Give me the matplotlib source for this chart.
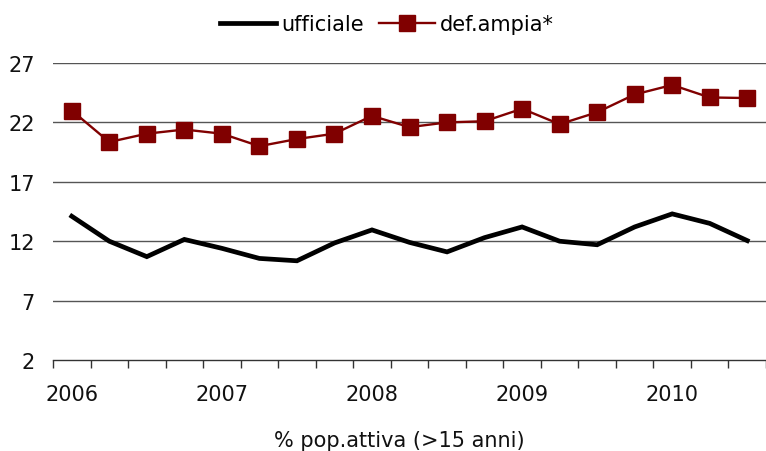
import matplotlib
matplotlib.use("Agg")
import matplotlib.pyplot as plt
import numpy as np

years = ["2006", "2007", "2008", "2009", "2010"]
ufficiale = [14.1, 12.0, 10.7, 12.15, 11.4, 10.55, 10.35, 11.85, 12.95, 11.9, 11.1,
             12.3, 13.2, 12.0, 11.7, 13.2, 14.3, 13.5, 12.05]
def_ampia = [23.0, 20.35, 21.05, 21.4, 21.05, 20.0, 20.6, 21.05, 22.55, 21.6, 22.0,
             22.1, 23.15, 21.85, 22.85, 24.35, 25.15, 24.1, 24.05]
y_ticks = [2, 7, 12, 17, 22, 27]
xlabel = "% pop.attiva (>15 anni)"

plt.rcParams['font.family'] = ['DejaVu Sans']
fig = plt.figure(figsize=(7.66, 4.52), dpi=100)
ax = fig.add_axes([53/766, 1-361/452, 1-53/766, (361-64)/452])

x = np.arange(len(ufficiale))
ax.plot(x, ufficiale, color='black', lw=3.4, solid_joinstyle='miter', label='ufficiale', zorder=3)
ax.plot(x, def_ampia, color='#800000', lw=1.7, marker='s', markersize=11,
        markerfacecolor='#800000', markeredgecolor='#800000', label='def.ampia*', zorder=4)

ax.set_ylim(2, 27)
ax.set_xlim(-0.5, -0.5 + (766-53)/38)
ax.set_yticks(y_ticks)
ax.set_yticklabels([str(v) for v in y_ticks])
for v in y_ticks[1:]:
    ax.axhline(v, color='#555555', lw=1.0, zorder=1)

ax.set_xticks(np.arange(0, len(x), 4))
ax.set_xticklabels(years)
ax.set_xticks(np.arange(-0.5, len(x) + 0.5, 1), minor=True)
ax.tick_params(axis='x', which='major', length=0, pad=17, labelsize=15, colors='#111111')
ax.tick_params(axis='x', which='minor', length=6, width=1, color='#333333')
ax.tick_params(axis='y', length=0, pad=13, labelsize=15, colors='#111111')

for s in ['top', 'right', 'left']:
    ax.spines[s].set_visible(False)
ax.spines['bottom'].set_color('#333333')
ax.spines['bottom'].set_linewidth(1.0)

fig.text(399/766, 1-441/452, xlabel, ha='center', va='center', fontsize=15, color='#111111')

leg = fig.legend(loc='center', bbox_to_anchor=(387/766, 1-25/452), ncol=2, frameon=False,
                 fontsize=15, handlelength=2.7, handletextpad=0.25, columnspacing=0.7)

fig.savefig("out.png", dpi=100)
